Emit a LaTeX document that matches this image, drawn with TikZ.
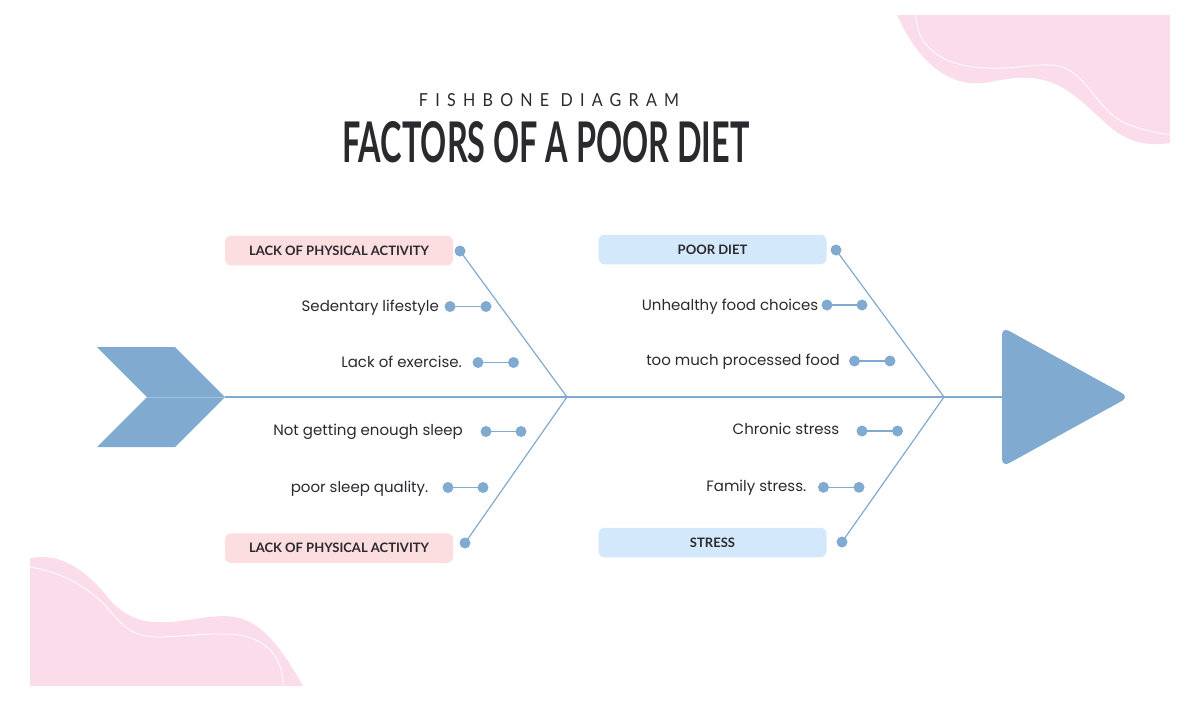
\documentclass[tikz,border=0pt]{standalone}
\usepackage{fontspec}
\setmainfont{Poppins}
\newfontfamily\labelfont{Lato}[UprightFont=* Bold]
\newfontfamily\titlefont{Lato}[UprightFont=* Bold]
\newfontfamily\subfont{Lato}[LetterSpace=45]
\definecolor{bone}{HTML}{80AACF}
\definecolor{blob}{HTML}{FBDCEB}
\definecolor{pinkbox}{HTML}{FCDDE0}
\definecolor{bluebox}{HTML}{D3E8FB}
\definecolor{ink}{HTML}{2A2A2E}
\begin{document}
\begin{tikzpicture}[x=1pt,y=-1pt,
  boneline/.style={draw=bone,line width=1.2pt},
  dot/.style={circle,fill=bone,inner sep=0pt,minimum size=11pt},
  cause/.style={anchor=base east,inner sep=0pt,font=\fontsize{15}{18}\selectfont,text=ink},
  catbox/.style={rounded corners=6pt,minimum width=228pt,minimum height=29.5pt,inner sep=0pt,font=\labelfont\fontsize{13}{15}\selectfont,text=ink},
  blobline/.style={draw=white,line width=0.8pt}]
\useasboundingbox (0,0) rectangle (1200,702);
% decorative blobs
\fill[blob] (897,15) -- (1170,15) -- (1170,143)
  .. controls (1135,148) and (1118,135) .. (1100,118)
  .. controls (1080,100) and (1062,80) .. (1030,78)
  .. controls (1005,76) and (990,85) .. (970,83)
  .. controls (940,80) and (915,55) .. (897,15) -- cycle;
\draw[blobline] (916,15) .. controls (916,45) and (940,66) .. (985,68)
  .. controls (1020,70) and (1045,60) .. (1065,68)
  .. controls (1090,80) and (1100,112) .. (1125,123)
  .. controls (1140,130) and (1160,133) .. (1170,135);
\fill[blob] (30,558) .. controls (60,553) and (85,568) .. (110,600)
  .. controls (130,622) and (150,623) .. (170,622)
  .. controls (195,620) and (215,614) .. (235,617)
  .. controls (265,622) and (285,655) .. (303,686) -- (30,686) -- cycle;
\draw[blobline] (30,567) .. controls (60,572) and (85,585) .. (105,605)
  .. controls (125,630) and (135,637) .. (160,637)
  .. controls (190,636) and (215,632) .. (240,635)
  .. controls (265,640) and (283,655) .. (283,686);
% titles
\node[inner sep=0pt,text=ink,anchor=south] (sub) at (549,107) {\resizebox{260pt}{13pt}{\subfont FISHBONE DIAGRAM}};
\node[inner sep=0pt,text=ink,anchor=south] (title) at (546,163) {\resizebox{407pt}{41pt}{\titlefont FACTORS OF A POOR DIET}};
% head and tail
\fill[bone] (97,347) -- (175,347) -- (225,397) -- (175,447) -- (97,447) -- (147,397) -- cycle;
\draw[color=bone!70!white,line width=0.6pt] (147,397) -- (225,397);
\coordinate (tail) at (225,397);
\fill[bone,rounded corners=8pt] (1002,327) -- (1129,397) -- (1002,467) -- cycle;
\coordinate (headl) at (1003,397);
\coordinate (j1) at (567,397);
\coordinate (j2) at (944,397);
\draw[boneline] (tail) -- (headl);
% category boxes
\node[catbox,fill=pinkbox] (c1) at (339,250.5) {LACK OF PHYSICAL ACTIVITY};
\node[catbox,fill=pinkbox] (c2) at (339,548) {LACK OF PHYSICAL ACTIVITY};
\node[catbox,fill=bluebox] (c3) at (712.5,249.5) {POOR DIET};
\node[catbox,fill=bluebox] (c4) at (712.5,542.5) {STRESS};
% main bones
\node[dot] (b1) at (460,251) {};
\node[dot] (b2) at (465,543) {};
\node[dot] (b3) at (836,250) {};
\node[dot] (b4) at (842,542) {};
\draw[boneline] (b1.center) -- (j1) -- (b2.center);
\draw[boneline] (b3.center) -- (j2) -- (b4.center);
% sub causes
\node[dot] (s1a) at (450,306.5) {}; \node[dot] (s1b) at (486,306.5) {};
\node[dot] (s2a) at (478,362.5) {}; \node[dot] (s2b) at (513.5,362.5) {};
\node[dot] (s3a) at (486,431.5) {}; \node[dot] (s3b) at (521,431.5) {};
\node[dot] (s4a) at (448,487.5) {}; \node[dot] (s4b) at (483,487.5) {};
\node[dot] (s5a) at (827,305) {}; \node[dot] (s5b) at (862,305) {};
\node[dot] (s6a) at (854.5,361) {}; \node[dot] (s6b) at (890,361) {};
\node[dot] (s7a) at (862,431) {}; \node[dot] (s7b) at (897.5,431) {};
\node[dot] (s8a) at (823.5,487.3) {}; \node[dot] (s8b) at (859,487.3) {};
\foreach \n in {1,...,8} \draw[boneline] (s\n a.center) -- (s\n b.center);
\node[cause] (t1) at (439,311) {Sedentary lifestyle};
\node[cause] (t2) at (462,367) {Lack of exercise.};
\node[cause] (t3) at (463,435.5) {Not getting enough sleep};
\node[cause] (t4) at (428.5,492.5) {poor sleep quality.};
\node[cause] (t5) at (818.5,310) {Unhealthy food choices};
\node[cause] (t6) at (840,365.5) {too much processed food};
\node[cause] (t7) at (839.5,434) {Chronic stress};
\node[cause] (t8) at (806.5,491.7) {Family stress.};
\end{tikzpicture}
\end{document}
